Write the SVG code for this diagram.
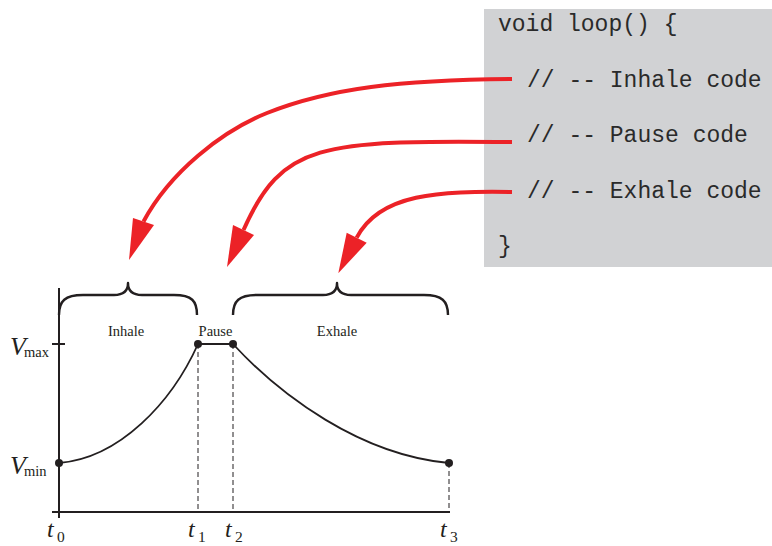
<svg xmlns="http://www.w3.org/2000/svg" width="772" height="546" viewBox="0 0 772 546">
<style>
.code{font-family:"Liberation Mono","Courier New",monospace;font-size:23px;fill:#2a2a2a}
.lbl{font-family:"Liberation Serif","Times New Roman",serif;font-size:14.5px;fill:#231f20;text-anchor:middle}
.it{font-family:"Liberation Serif","Times New Roman",serif;font-style:italic;fill:#231f20}
.sub{font-family:"Liberation Serif","Times New Roman",serif;fill:#231f20}
.ax{stroke:#231f20;stroke-width:2;fill:none}
.crv{stroke:#231f20;stroke-width:1.8;fill:none}
.dash{stroke:#231f20;stroke-width:1;stroke-dasharray:5 3;fill:none}
.brace{stroke:#231f20;stroke-width:2.4;fill:none;stroke-linejoin:round}
.dot{fill:#231f20}
.red{stroke:#ec2227;stroke-width:4;fill:none}
.head{fill:#ec2227}
</style>
<rect width="772" height="546" fill="#ffffff"/>
<g id="code">
<rect x="484" y="9" width="288" height="258" fill="#d1d2d4"/>
<text class="code" x="498" y="31">void loop() {</text>
<text class="code" x="527" y="87">// -- Inhale code</text>
<text class="code" x="527" y="142">// -- Pause code</text>
<text class="code" x="527" y="198">// -- Exhale code</text>
<text class="code" x="498" y="253">}</text>
</g>
<g id="axes">
<line class="ax" x1="59" y1="288" x2="59" y2="518"/>
<line class="ax" x1="52" y1="512" x2="450" y2="512"/>
<line class="ax" x1="52" y1="344" x2="65" y2="344"/>
<text class="it" x="10" y="355" font-size="26">V</text>
<text class="sub" x="24" y="357" font-size="14.5">max</text>
<text class="it" x="10" y="474" font-size="26">V</text>
<text class="sub" x="24" y="476" font-size="14.5">min</text>
<text class="it" x="47" y="537" font-size="24">t</text>
<text class="sub" x="57" y="542" font-size="15.5">0</text>
<text class="it" x="188" y="537" font-size="24">t</text>
<text class="sub" x="198" y="542" font-size="15.5">1</text>
<text class="it" x="225" y="537" font-size="24">t</text>
<text class="sub" x="235" y="542" font-size="15.5">2</text>
<text class="it" x="440" y="537" font-size="24">t</text>
<text class="sub" x="450" y="542" font-size="15.5">3</text>
</g>
<g id="inhale">
<path class="brace" d="M59,315 C59,301 65,295 83,295 L114,295 C123,295 128,291 128,283 C128,291 133,295 142,295 L174,295 C192,295 197,301 197,315"/>
<text class="lbl" x="126" y="336">Inhale</text>
<path class="crv" d="M59,463 C120,458 172,402 198,344"/>
</g>
<g id="pause">
<text class="lbl" x="215.5" y="336">Pause</text>
<line class="crv" x1="198" y1="344" x2="233" y2="344"/>
</g>
<g id="exhale">
<path class="brace" d="M233,315 C233,301 239,295 257,295 L323,295 C332,295 337,291 337,283 C337,291 342,295 351,295 L424,295 C442,295 448,301 448,315"/>
<text class="lbl" x="337" y="336">Exhale</text>
<path class="crv" d="M233,344 C280,395 360,455 449,463"/>
</g>
<g id="markers">
<line class="dash" x1="198" y1="344" x2="198" y2="512"/>
<line class="dash" x1="233" y1="344" x2="233" y2="512"/>
<line class="dash" x1="449" y1="463" x2="449" y2="512"/>
<circle class="dot" cx="59" cy="463" r="4"/>
<circle class="dot" cx="198" cy="344" r="4"/>
<circle class="dot" cx="233" cy="344" r="4"/>
<circle class="dot" cx="449" cy="463" r="4"/>
</g>
<g id="connectors">
<path class="red" d="M512,79 C400,80 330,88 267,113 C222,131 170,172 143.5,221.5"/>
<polygon class="head" points="129,260 133,218 154,225"/>
<path class="red" d="M512,142 C320,140 282,143 243.5,230"/>
<polygon class="head" points="227,267 233,225 254,235"/>
<path class="red" d="M512,192 C440,191 379.7,193.2 356.7,237.7"/>
<polygon class="head" points="338.3,273.3 346.7,232.7 366.7,242.7"/>
</g>
</svg>
